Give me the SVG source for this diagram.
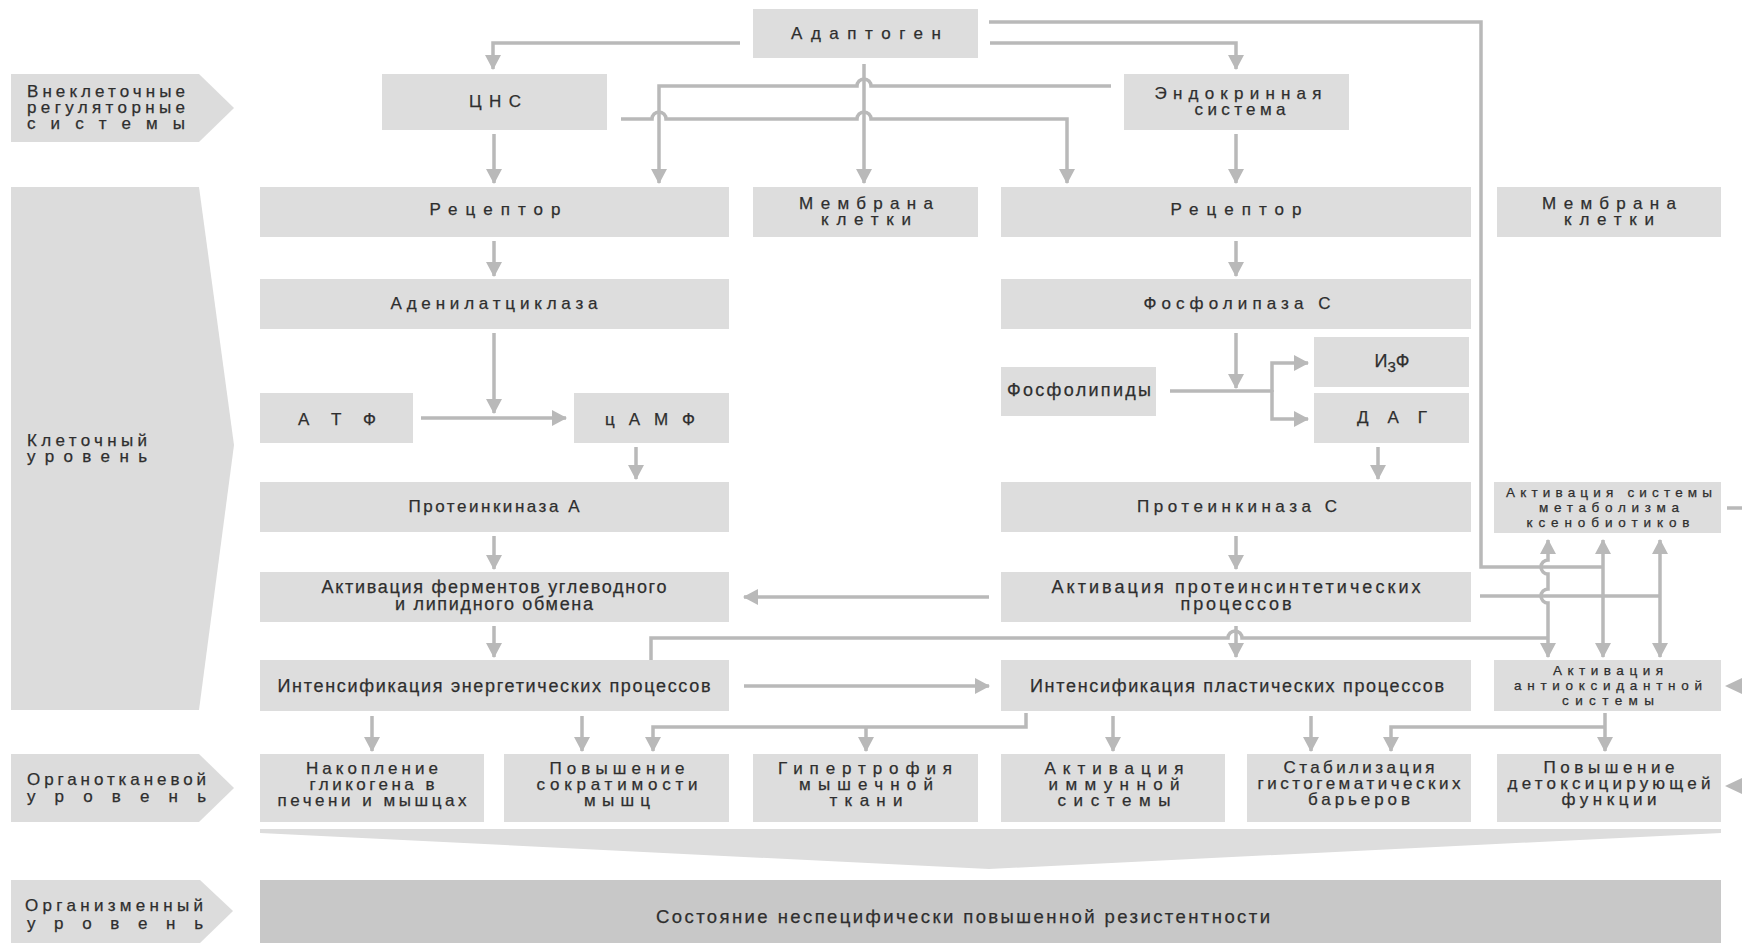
<svg xmlns="http://www.w3.org/2000/svg" width="1742" height="943" viewBox="0 0 1742 943">
<defs>
<style>
.box{fill:#dddddd}
.lab{fill:#dcdcdc}
.dark{fill:#c8c8c8}
.t{font-family:"Liberation Sans",Arial,sans-serif;font-size:17px;fill:#2e2e2e;stroke:#2e2e2e;stroke-width:0.25;text-anchor:middle}
.c{font-size:18px}
.s{font-size:13.5px}
.l{font-family:"Liberation Sans",Arial,sans-serif;font-size:17px;fill:#2e2e2e;stroke:#2e2e2e;stroke-width:0.25}
.ln{fill:none;stroke:#b9b9b9;stroke-width:3.5}
.ah{fill:#b9b9b9}
</style>
<marker id="arr" viewBox="0 0 15 16" markerWidth="15" markerHeight="16" refX="14" refY="8" orient="auto-start-reverse" markerUnits="userSpaceOnUse">
<path d="M0,0 L15,8 L0,16 z" fill="#b9b9b9"/>
</marker>
</defs>
<rect width="1742" height="943" fill="#ffffff"/>

<g id="lbl-extracellular">
<polygon class="lab" points="11,74 199,74 234,108 199,142 11,142"/>
<text class="l" x="27" y="97" textLength="158" lengthAdjust="spacing">Внеклеточные</text>
<text class="l" x="27" y="113" textLength="158" lengthAdjust="spacing">регуляторные</text>
<text class="l" x="27" y="129" textLength="158" lengthAdjust="spacing">системы</text>
</g>
<g id="lbl-cellular">
<polygon class="lab" points="11,187 199,187 234,445 199,710 11,710"/>
<text class="l" x="27" y="446" textLength="120" lengthAdjust="spacing">Клеточный</text>
<text class="l" x="27" y="462" textLength="120" lengthAdjust="spacing">уровень</text>
</g>
<g id="lbl-organtissue">
<polygon class="lab" points="11,754 199,754 234,788 199,822 11,822"/>
<text class="l" x="27" y="785" textLength="179" lengthAdjust="spacing">Органотканевой</text>
<text class="l" x="27" y="802" textLength="179" lengthAdjust="spacing">уровень</text>
</g>
<g id="lbl-organism">
<polygon class="lab" points="11,880 200,880 233,911 200,943 11,943"/>
<text class="l" x="25" y="911" textLength="178" lengthAdjust="spacing">Организменный</text>
<text class="l" x="27" y="929" textLength="176" lengthAdjust="spacing">уровень</text>
</g>

<g id="connectors">
<path class="ln" marker-end="url(#arr)" d="M740,43 H493 V69"/>
<path class="ln" marker-end="url(#arr)" d="M990,43 H1236 V69"/>
<path class="ln" d="M989,22 H1481 V567 H1603"/>
<path class="ln" marker-end="url(#arr)" d="M864,64 V183"/>
<path class="ln" marker-end="url(#arr)" d="M1111,86 H871 A7,7 0 0 0 857,86 H659 V183"/>
<path class="ln" marker-end="url(#arr)" d="M621,119 H652 A7,7 0 0 1 666,119 H857 A7,7 0 0 1 871,119 H1067 V183"/>
<path class="ln" marker-end="url(#arr)" d="M494,134 V183"/>
<path class="ln" marker-end="url(#arr)" d="M1236,134 V183"/>
<path class="ln" marker-end="url(#arr)" d="M494,241 V276"/>
<path class="ln" marker-end="url(#arr)" d="M1236,241 V276"/>
<path class="ln" marker-end="url(#arr)" d="M494,333 V413"/>
<path class="ln" marker-end="url(#arr)" d="M421,418 H566"/>
<path class="ln" marker-end="url(#arr)" d="M636,447 V479"/>
<path class="ln" marker-end="url(#arr)" d="M1236,333 V388"/>
<path class="ln" d="M1170,391 H1272"/>
<path class="ln" marker-end="url(#arr)" d="M1272,392 V363 H1308"/>
<path class="ln" marker-end="url(#arr)" d="M1272,390 V419 H1308"/>
<path class="ln" marker-end="url(#arr)" d="M1378,447 V479"/>
<path class="ln" marker-end="url(#arr)" d="M494,536 V569"/>
<path class="ln" marker-end="url(#arr)" d="M1236,536 V569"/>
<path class="ln" marker-end="url(#arr)" d="M989,597 H744"/>
<path class="ln" marker-end="url(#arr)" d="M494,626 V657"/>
<path class="ln" marker-end="url(#arr)" d="M1236,626 V657"/>
<path class="ln" marker-end="url(#arr)" d="M744,686 H989"/>
<path class="ln" d="M651,660 V638 H1228 A7,7 0 0 1 1242,638 H1548"/>
<path class="ln" d="M1480,596 H1660"/>
<path class="ln" marker-start="url(#arr)" marker-end="url(#arr)" d="M1548,540 V560 A7,7 0 0 0 1548,574 V589 A7,7 0 0 0 1548,603 V657"/>
<path class="ln" marker-start="url(#arr)" marker-end="url(#arr)" d="M1603,540 V657"/>
<path class="ln" marker-start="url(#arr)" marker-end="url(#arr)" d="M1660,540 V657"/>
<path class="ln" marker-end="url(#arr)" d="M372,716 V751"/>
<path class="ln" marker-end="url(#arr)" d="M582,716 V751"/>
<path class="ln" marker-end="url(#arr)" d="M1026,713 V727 H653 V751"/>
<path class="ln" marker-end="url(#arr)" d="M866,727 V751"/>
<path class="ln" marker-end="url(#arr)" d="M1113,716 V751"/>
<path class="ln" marker-end="url(#arr)" d="M1311,716 V751"/>
<path class="ln" marker-end="url(#arr)" d="M1605,713 V751"/>
<path class="ln" marker-end="url(#arr)" d="M1605,727 H1391 V751"/>
<path class="ln" d="M1727,508 H1742"/>
<polygon class="ah" points="1725,686 1742,678 1742,694"/>
<polygon class="ah" points="1725,786 1742,778 1742,794"/>
</g>

<g id="n-adaptogen"><rect class="box" x="753" y="9" width="225" height="49"/>
<text class="t" x="866" y="39" textLength="150" lengthAdjust="spacing">Адаптоген</text></g>
<g id="n-cns"><rect class="box" x="382" y="74" width="225" height="56"/>
<text class="t" x="495" y="107" textLength="52" lengthAdjust="spacing">ЦНС</text></g>
<g id="n-endocrine"><rect class="box" x="1124" y="74" width="225" height="56"/>
<text class="t" x="1238" y="99" textLength="167" lengthAdjust="spacing">Эндокринная</text>
<text class="t" x="1240" y="115" textLength="91" lengthAdjust="spacing">система</text></g>

<g id="n-receptor1"><rect class="box" x="260" y="187" width="469" height="50"/>
<text class="t" x="495" y="215" textLength="131" lengthAdjust="spacing">Рецептор</text></g>
<g id="n-membrane1"><rect class="box" x="753" y="187" width="225" height="50"/>
<text class="t" x="866" y="209" textLength="134" lengthAdjust="spacing">Мембрана</text>
<text class="t" x="866" y="225" textLength="90" lengthAdjust="spacing">клетки</text></g>
<g id="n-receptor2"><rect class="box" x="1001" y="187" width="470" height="50"/>
<text class="t" x="1236" y="215" textLength="131" lengthAdjust="spacing">Рецептор</text></g>
<g id="n-membrane2"><rect class="box" x="1497" y="187" width="224" height="50"/>
<text class="t" x="1609" y="209" textLength="134" lengthAdjust="spacing">Мембрана</text>
<text class="t" x="1609" y="225" textLength="90" lengthAdjust="spacing">клетки</text></g>

<g id="n-adenylate"><rect class="box" x="260" y="279" width="469" height="50"/>
<text class="t" x="494" y="309" textLength="207" lengthAdjust="spacing">Аденилатциклаза</text></g>
<g id="n-plc"><rect class="box" x="1001" y="279" width="470" height="50"/>
<text class="t" x="1237" y="309" textLength="187" lengthAdjust="spacing">Фосфолипаза С</text></g>

<g id="n-atp"><rect class="box" x="260" y="393" width="153" height="50"/>
<text class="t" x="337" y="425" textLength="78" lengthAdjust="spacing">А Т Ф</text></g>
<g id="n-camp"><rect class="box" x="574" y="393" width="155" height="50"/>
<text class="t" x="650" y="425" textLength="90" lengthAdjust="spacing">цАМФ</text></g>
<g id="n-phospholipids"><rect class="box" x="1001" y="367" width="155" height="49"/>
<text class="t" x="1079" y="396" style="font-size:18px" textLength="144" lengthAdjust="spacing">Фосфолипиды</text></g>
<g id="n-ip3"><rect class="box" x="1314" y="337" width="155" height="50"/>
<text class="t" x="1392" y="367" style="font-size:18px">И<tspan dy="5" style="font-size:15px">3</tspan><tspan dy="-5">Ф</tspan></text></g>
<g id="n-dag"><rect class="box" x="1314" y="393" width="155" height="50"/>
<text class="t" x="1392" y="423" textLength="70" lengthAdjust="spacing">Д А Г</text></g>

<g id="n-pka"><rect class="box" x="260" y="482" width="469" height="50"/>
<text class="t" x="494" y="512" textLength="171" lengthAdjust="spacing">Протеинкиназа А</text></g>
<g id="n-pkc"><rect class="box" x="1001" y="482" width="470" height="50"/>
<text class="t" x="1237" y="512" textLength="200" lengthAdjust="spacing">Протеинкиназа С</text></g>
<g id="n-xeno"><rect class="box" x="1494" y="482" width="227" height="51"/>
<text class="t s" x="1609" y="497" textLength="206" lengthAdjust="spacing">Активация системы</text>
<text class="t s" x="1609" y="512" textLength="140" lengthAdjust="spacing">метаболизма</text>
<text class="t s" x="1608" y="527" textLength="163" lengthAdjust="spacing">ксенобиотиков</text></g>

<g id="n-enzymes"><rect class="box" x="260" y="572" width="469" height="50"/>
<text class="t c" x="494" y="593" textLength="345" lengthAdjust="spacing">Активация ферментов углеводного</text>
<text class="t c" x="494" y="610" textLength="198" lengthAdjust="spacing">и липидного обмена</text></g>
<g id="n-proteinsynth"><rect class="box" x="1001" y="572" width="470" height="50"/>
<text class="t c" x="1236" y="593" textLength="369" lengthAdjust="spacing">Активация протеинсинтетических</text>
<text class="t c" x="1236" y="610" textLength="111" lengthAdjust="spacing">процессов</text></g>

<g id="n-energy"><rect class="box" x="260" y="660" width="469" height="51"/>
<text class="t c" x="494" y="692" textLength="433" lengthAdjust="spacing">Интенсификация энергетических процессов</text></g>
<g id="n-plastic"><rect class="box" x="1001" y="660" width="470" height="51"/>
<text class="t c" x="1237" y="692" textLength="414" lengthAdjust="spacing">Интенсификация пластических процессов</text></g>
<g id="n-antiox"><rect class="box" x="1494" y="660" width="227" height="51"/>
<text class="t s" x="1608" y="675" textLength="110" lengthAdjust="spacing">Активация</text>
<text class="t s" x="1608" y="690" textLength="188" lengthAdjust="spacing">антиоксидантной</text>
<text class="t s" x="1608" y="705" textLength="92" lengthAdjust="spacing">системы</text></g>

<g id="n-glycogen"><rect class="box" x="260" y="754" width="224" height="68"/>
<text class="t" x="372" y="774" textLength="132" lengthAdjust="spacing">Накопление</text>
<text class="t" x="372" y="790" textLength="125" lengthAdjust="spacing">гликогена в</text>
<text class="t" x="372" y="806" textLength="189" lengthAdjust="spacing">печени и мышцах</text></g>
<g id="n-contract"><rect class="box" x="504" y="754" width="225" height="68"/>
<text class="t" x="617" y="774" textLength="135" lengthAdjust="spacing">Повышение</text>
<text class="t" x="617" y="790" textLength="161" lengthAdjust="spacing">сократимости</text>
<text class="t" x="617" y="806" textLength="66" lengthAdjust="spacing">мышц</text></g>
<g id="n-hypertrophy"><rect class="box" x="753" y="754" width="225" height="68"/>
<text class="t" x="865" y="774" textLength="174" lengthAdjust="spacing">Гипертрофия</text>
<text class="t" x="866" y="790" textLength="134" lengthAdjust="spacing">мышечной</text>
<text class="t" x="866" y="806" textLength="73" lengthAdjust="spacing">ткани</text></g>
<g id="n-immune"><rect class="box" x="1001" y="754" width="224" height="68"/>
<text class="t" x="1114" y="774" textLength="139" lengthAdjust="spacing">Активация</text>
<text class="t" x="1114" y="790" textLength="131" lengthAdjust="spacing">иммунной</text>
<text class="t" x="1114" y="806" textLength="113" lengthAdjust="spacing">системы</text></g>
<g id="n-barriers"><rect class="box" x="1247" y="754" width="224" height="68"/>
<text class="t" x="1359" y="773" textLength="151" lengthAdjust="spacing">Стабилизация</text>
<text class="t" x="1359" y="789" textLength="203" lengthAdjust="spacing">гистогематических</text>
<text class="t" x="1359" y="805" textLength="102" lengthAdjust="spacing">барьеров</text></g>
<g id="n-detox"><rect class="box" x="1497" y="754" width="224" height="68"/>
<text class="t" x="1609" y="773" textLength="131" lengthAdjust="spacing">Повышение</text>
<text class="t" x="1609" y="789" textLength="203" lengthAdjust="spacing">детоксицирующей</text>
<text class="t" x="1609" y="805" textLength="95" lengthAdjust="spacing">функции</text></g>

<g id="funnel"><polygon class="box" points="260,829 1721,829 1721,833 989,869 260,833"/></g>

<g id="n-organism"><rect class="dark" x="260" y="880" width="1461" height="63"/>
<text class="t" x="963" y="923" style="font-size:18.5px" textLength="614" lengthAdjust="spacing">Состояние неспецифически повышенной резистентности</text></g>
</svg>
